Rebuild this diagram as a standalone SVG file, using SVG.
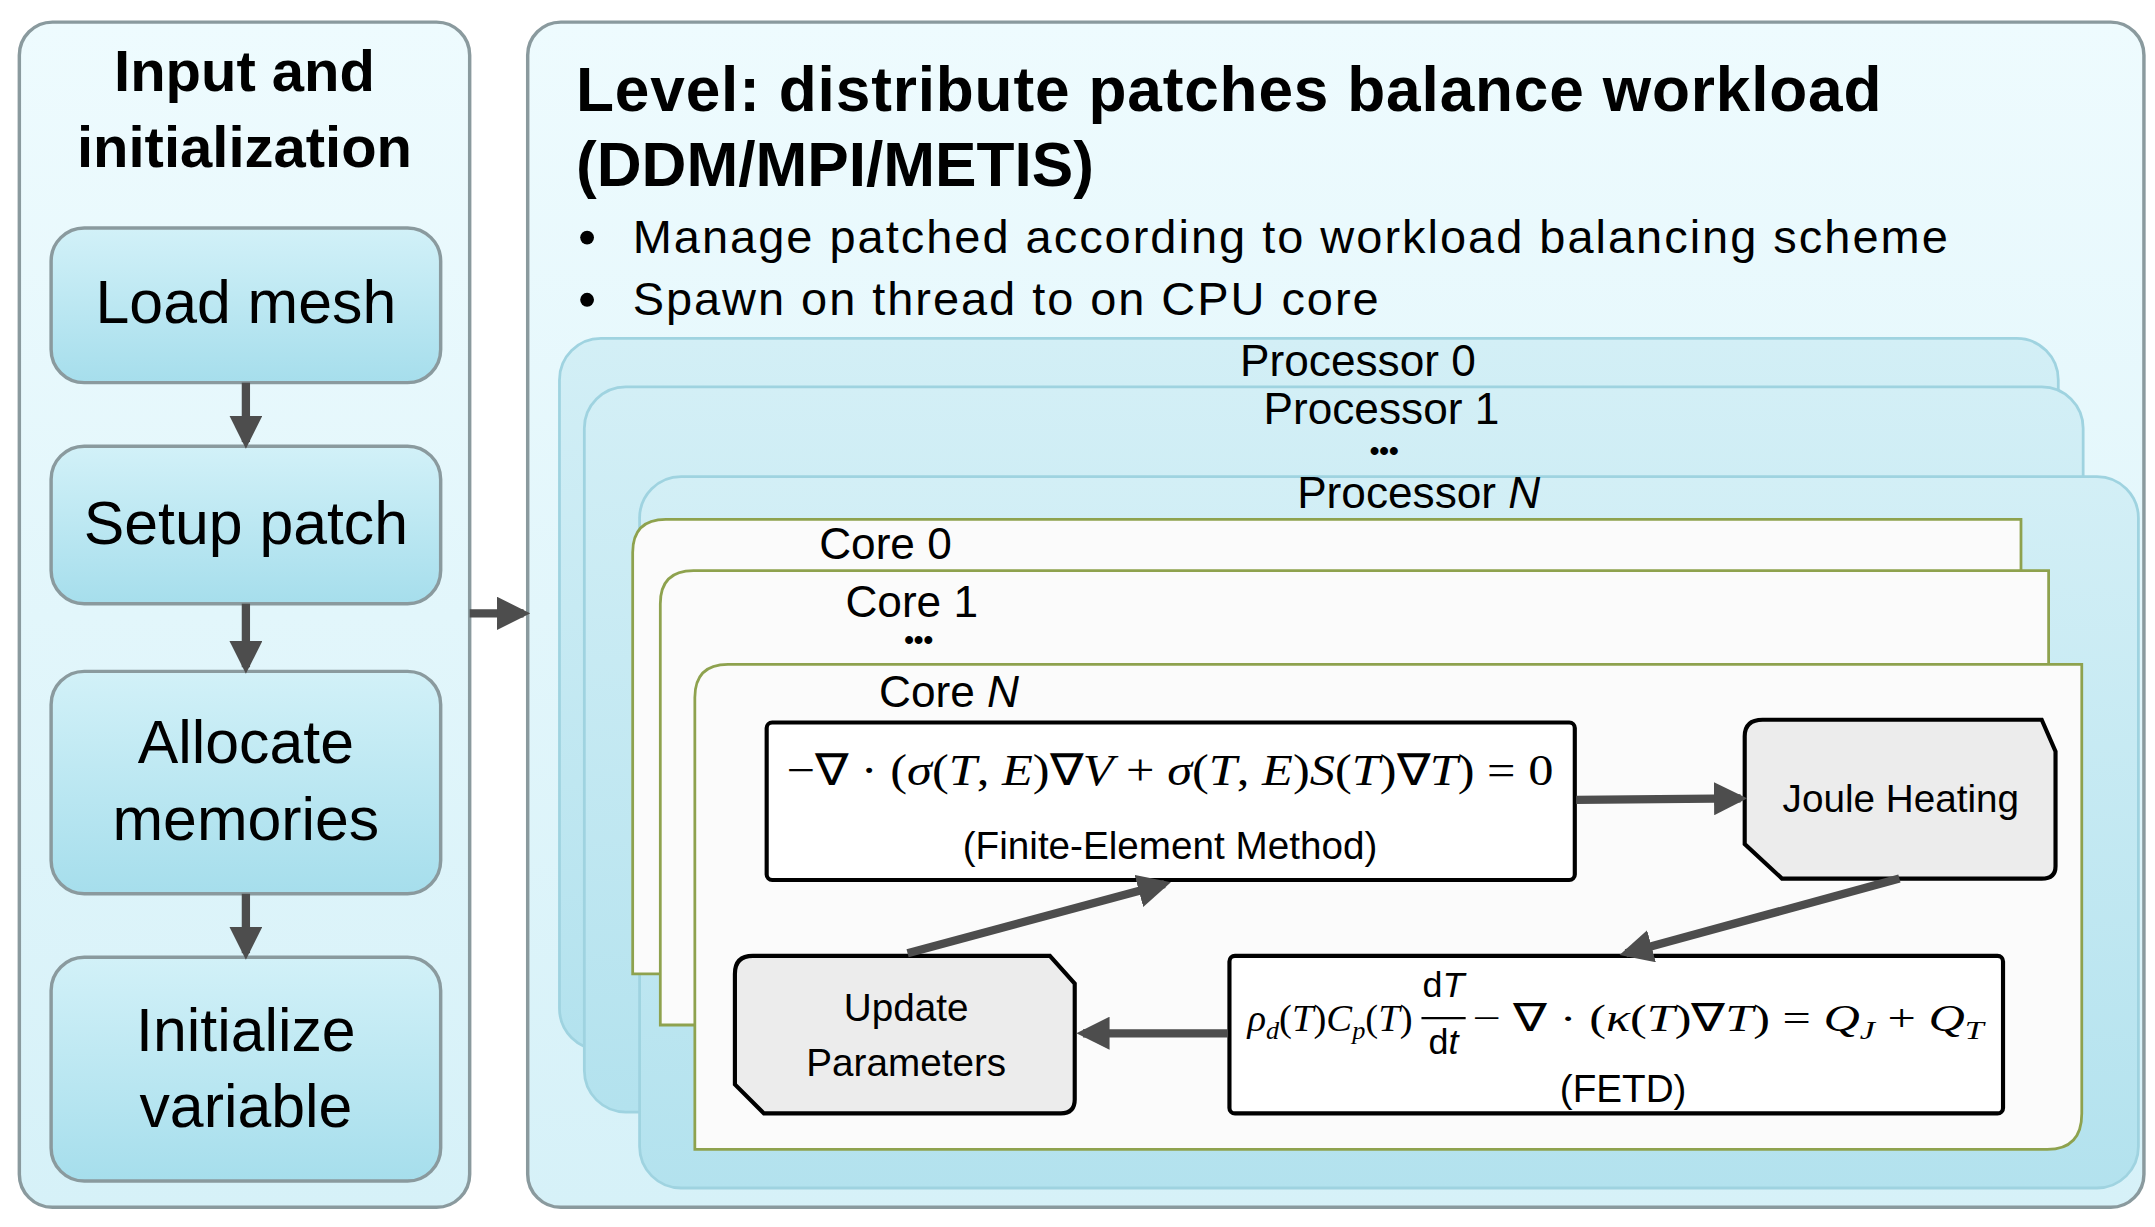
<svg xmlns="http://www.w3.org/2000/svg" width="2155" height="1227" viewBox="0 0 2155 1227">
<defs>
<linearGradient id="gPanel" x1="0" y1="0" x2="0" y2="1"><stop offset="0" stop-color="#eefbfe"/><stop offset="1" stop-color="#d6f1f8"/></linearGradient>
<linearGradient id="gBox" x1="0" y1="0" x2="0" y2="1"><stop offset="0" stop-color="#d2f1f8"/><stop offset="1" stop-color="#a6deec"/></linearGradient>
<linearGradient id="gProc" x1="0" y1="0" x2="0" y2="1"><stop offset="0" stop-color="#d3eff6"/><stop offset="1" stop-color="#b3e2ee"/></linearGradient>
<marker id="ah" viewBox="0 0 10 10" refX="8" refY="5" markerWidth="4" markerHeight="4" orient="auto"><path d="M0,0 L10,5 L0,10 Z" fill="#4d4d4d"/></marker>
<style>
.panel{fill:url(#gPanel);stroke:#8a9a9e;stroke-width:2.5}
.box{fill:url(#gBox);stroke:#8a9a9e;stroke-width:2.5}
.proc{fill:url(#gProc);stroke:#9fd3e0;stroke-width:2}
.core{fill:#fbfbfb;stroke:#8ea24e;stroke-width:2}
.eqb{fill:#fff;stroke:#000;stroke-width:3}
.oct{fill:#ececec;stroke:#000;stroke-width:3}
.s{font-family:"Liberation Sans",Arial,sans-serif;fill:#000}
.m{font-family:"Liberation Serif","Times New Roman",serif;fill:#000;font-style:italic}
.c{stroke:#4d4d4d;stroke-width:6;fill:none;marker-end:url(#ah)}
</style>
</defs>
<rect width="2155" height="1227" fill="#fff"/>
<g transform="scale(1.3814)">
<g id="left">
<rect class="panel" x="14" y="16" width="326" height="858" rx="24"/>
<text class="s" x="177" y="66" font-size="42" font-weight="bold" text-anchor="middle">Input and</text>
<text class="s" x="177" y="121" font-size="42" font-weight="bold" text-anchor="middle">initialization</text>
</g>
<g id="load"><rect class="box" x="37" y="165" width="282" height="112" rx="24"/><text class="s" x="178" y="234" font-size="44" text-anchor="middle">Load mesh</text></g>
<g id="setup"><rect class="box" x="37" y="323" width="282" height="114" rx="24"/><text class="s" x="178" y="394" font-size="44" text-anchor="middle">Setup patch</text></g>
<g id="alloc"><rect class="box" x="37" y="486" width="282" height="161" rx="24"/><text class="s" x="178" y="552" font-size="44" text-anchor="middle">Allocate</text><text class="s" x="178" y="608" font-size="44" text-anchor="middle">memories</text></g>
<g id="init"><rect class="box" x="37" y="693" width="282" height="162" rx="24"/><text class="s" x="178" y="761" font-size="44" text-anchor="middle">Initialize</text><text class="s" x="178" y="816" font-size="44" text-anchor="middle">variable</text></g>
<g id="right">
<rect class="panel" x="382" y="16" width="1170" height="858" rx="24"/>
<text class="s" x="417" y="80" font-size="45" font-weight="bold" textLength="945">Level: distribute patches balance workload</text>
<text class="s" x="417" y="135" font-size="45" font-weight="bold">(DDM/MPI/METIS)</text>
<circle cx="425" cy="172" r="5"/><circle cx="425" cy="217" r="5"/>
<text class="s" x="458" y="183" font-size="34" textLength="952">Manage patched according to workload balancing scheme</text>
<text class="s" x="458" y="228" font-size="34" textLength="540">Spawn on thread to on CPU core</text>
</g>
<g id="proc0"><rect class="proc" x="405" y="245" width="1085" height="515" rx="30"/><text class="s" x="983" y="272" font-size="32" text-anchor="middle">Processor 0</text></g>
<g id="proc1"><rect class="proc" x="423" y="280" width="1085" height="525" rx="30"/><text class="s" x="1000" y="307" font-size="32" text-anchor="middle">Processor 1</text><text class="s" x="1002" y="333" font-size="20" font-weight="bold" text-anchor="middle">•••</text></g>
<g id="procN"><rect class="proc" x="463" y="345" width="1085" height="515" rx="30"/><text class="s" x="1027" y="368" font-size="32" text-anchor="middle">Processor <tspan font-style="italic">N</tspan></text></g>
<g id="core0"><path class="core" d="M458,705 L458,400 Q458,376 482,376 L1463,376 L1463,680 Q1463,705 1438,705 Z"/><text class="s" x="641" y="405" font-size="32" text-anchor="middle">Core 0</text></g>
<g id="core1"><path class="core" d="M478,742 L478,437 Q478,413 502,413 L1483,413 L1483,717 Q1483,742 1458,742 Z"/><text class="s" x="660" y="447" font-size="32" text-anchor="middle">Core 1</text><text class="s" x="665" y="470" font-size="20" font-weight="bold" text-anchor="middle">•••</text></g>
<g id="coreN"><path class="core" d="M503,832 L503,505 Q503,481 527,481 L1507,481 L1507,806 Q1507,832 1482,832 Z"/><text class="s" x="687" y="512" font-size="32" text-anchor="middle">Core <tspan font-style="italic">N</tspan></text></g>
<g id="fem"><rect class="eqb" x="555" y="523" width="585" height="114" rx="4"/>
<text class="m" x="847" y="568" font-size="32" text-anchor="middle" textLength="555" lengthAdjust="spacingAndGlyphs"><tspan font-style="normal">−∇ · (</tspan>σ<tspan font-style="normal">(</tspan>T<tspan font-style="normal">, </tspan>E<tspan font-style="normal">)∇</tspan>V<tspan font-style="normal"> + </tspan>σ<tspan font-style="normal">(</tspan>T<tspan font-style="normal">, </tspan>E<tspan font-style="normal">)</tspan>S<tspan font-style="normal">(</tspan>T<tspan font-style="normal">)∇</tspan>T<tspan font-style="normal">) = 0</tspan></text>
<text class="s" x="847" y="622" font-size="28" text-anchor="middle">(Finite-Element Method)</text></g>
<g id="joule"><path class="oct" d="M1276,521 L1478,521 L1488,544 L1488,627 Q1488,636 1478,636 L1290,636 L1263,611 L1263,533 Q1263,521 1276,521 Z"/><text class="s" x="1376" y="588" font-size="28" text-anchor="middle">Joule Heating</text></g>
<g id="fetd"><rect class="eqb" x="890" y="692" width="560" height="114" rx="4"/>
<text class="m" x="903" y="746" font-size="28">ρ<tspan font-size="19" dy="6">d</tspan><tspan font-style="normal" dy="-6">(</tspan>T<tspan font-style="normal">)</tspan>C<tspan font-size="19" dy="6">p</tspan><tspan font-style="normal" dy="-6">(</tspan>T<tspan font-style="normal">)</tspan></text>
<text class="s" x="1045" y="722" font-size="26" text-anchor="middle" font-family="Liberation Serif">d<tspan font-style="italic">T</tspan></text>
<line x1="1029" y1="737" x2="1061" y2="737" stroke="#000" stroke-width="1.5"/>
<text class="s" x="1045" y="763" font-size="26" text-anchor="middle" font-family="Liberation Serif">d<tspan font-style="italic">t</tspan></text>
<text class="m" x="1066" y="746" font-size="28" textLength="370" lengthAdjust="spacingAndGlyphs"><tspan font-style="normal">− ∇ · (</tspan>κ<tspan font-style="normal">(</tspan>T<tspan font-style="normal">)∇</tspan>T<tspan font-style="normal">) = </tspan>Q<tspan font-size="19" dy="6">J</tspan><tspan font-style="normal" dy="-6"> + </tspan>Q<tspan font-size="19" dy="6">T</tspan></text>
<text class="s" x="1175" y="798" font-size="28" text-anchor="middle">(FETD)</text></g>
<g id="update"><path class="oct" d="M545,692 L760,692 L778,712 L778,796 Q778,806 768,806 L553,806 L532,785 L532,705 Q532,692 545,692 Z"/><text class="s" x="656" y="739" font-size="28" text-anchor="middle">Update</text><text class="s" x="656" y="779" font-size="28" text-anchor="middle">Parameters</text></g>
<g id="connectors">
<line class="c" x1="178" y1="277" x2="178" y2="320"/>
<line class="c" x1="178" y1="437" x2="178" y2="483"/>
<line class="c" x1="178" y1="647" x2="178" y2="690"/>
<line class="c" x1="340" y1="444" x2="379" y2="444"/>
<line class="c" x1="1141" y1="579" x2="1260" y2="578"/>
<line class="c" x1="1375" y1="636" x2="1177" y2="690"/>
<line class="c" x1="889" y1="748" x2="784" y2="748"/>
<line class="c" x1="657" y1="690" x2="843" y2="640"/>
</g>
</g>
</svg>
